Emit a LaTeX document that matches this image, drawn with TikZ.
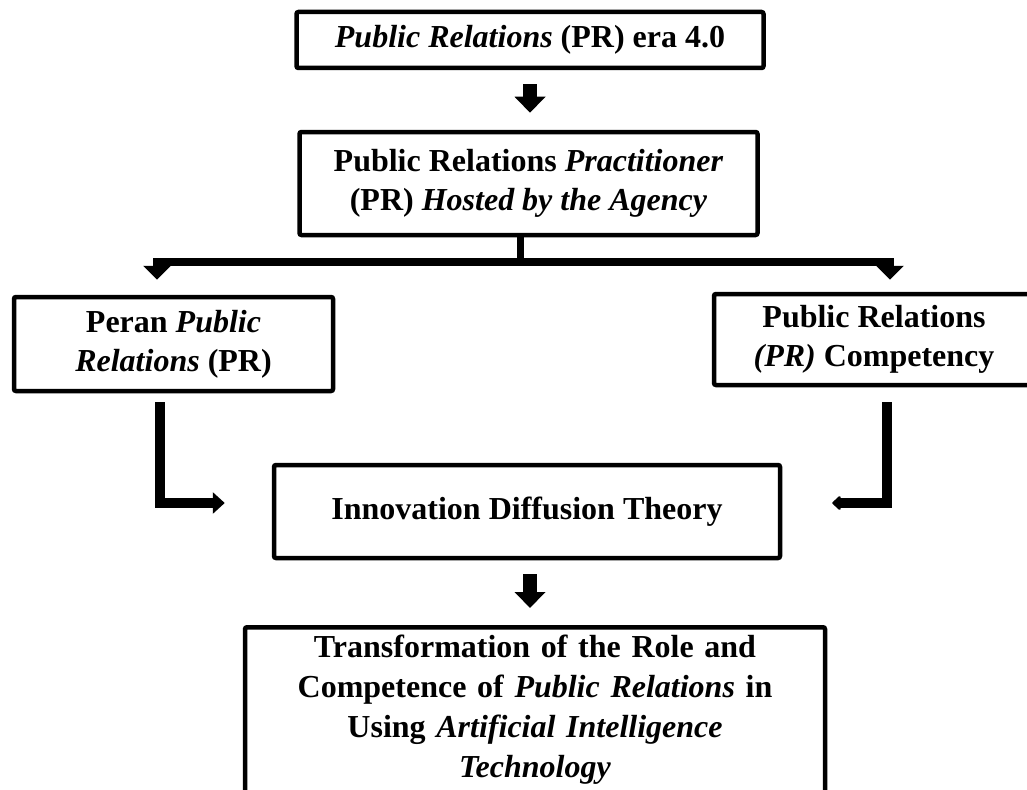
\documentclass[tikz,border=0pt]{standalone}
\usepackage{fontspec}
\setmainfont{Liberation Serif}
\usetikzlibrary{arrows.meta,positioning}

\tikzset{
  box/.style={draw, line width=4.5pt, rounded corners=2pt, align=center, inner sep=0pt,
    font=\fontsize{32}{39}\selectfont\bfseries},
  bigarrow/.style={line width=14pt, -{Triangle[width=30pt,length=16pt]}},
  bararrow/.style={line width=8pt, line join=miter, -{Triangle[width=27pt,length=14pt]}},
  elbowarrow/.style={line width=10pt, line join=miter, -{Triangle[width=21pt,length=12pt]}},
  smallarrow/.style={line width=10pt, line join=miter, -{Triangle[width=16pt,length=9pt,round]}},
}

\begin{document}
\begin{tikzpicture}[x=1pt, y=-1pt]
  \useasboundingbox (0,0) rectangle (1027,789);

  \node[box, minimum width=467pt, minimum height=56pt] (era) at (530,40) {\textit{Public Relations} (PR) era 4.0};
  \node[box, minimum width=458pt, minimum height=103pt] (pract) at (528.5,183.5) {Public Relations \textit{Practitioner}\\(PR) \textit{Hosted by the Agency}};
  \node[box, minimum width=319pt, minimum height=94pt] (peran) at (173.5,344) {Peran \textit{Public}\\\textit{Relations} (PR)};
  \node[box, minimum width=320pt, minimum height=91pt] (comp) at (874,339.5) {Public Relations\\\textit{(PR)} Competency};
  \node[box, minimum width=506pt, minimum height=93pt] (idt) at (527,511.5) {Innovation Diffusion Theory};
  \node[box, font=\fontsize{32}{40}\selectfont\bfseries, text width=560pt, minimum width=580pt, inner ysep=8pt,
    text depth=140pt, anchor=north] (trans) at (535,625)
    {Transformation of the Role and\\Competence of \textit{Public Relations} in\\Using \textit{Artificial Intelligence}\\\textit{Technology}};

  \coordinate (split) at (520,262);
  \coordinate (mid) at ([xshift=3pt]idt.south);

  \draw[bigarrow, shorten <=14pt, shorten >=17pt] (era.south) -- (era.south |- pract.north);
  \draw[line width=7pt] (split |- pract.south) -- (split);
  \draw[bararrow, shorten >=15pt] (split) -| ([xshift=-16.5pt]peran.north);
  \draw[bararrow, shorten >=12pt] (split) -| ([xshift=16pt]comp.north);
  \draw[elbowarrow, shorten <=9pt, shorten >=47pt] ([xshift=-13.5pt]peran.south) |- ([yshift=8.5pt]idt.west);
  \draw[smallarrow, shorten <=15pt, shorten >=50pt] ([xshift=13pt]comp.south) |- ([yshift=8.5pt]idt.east);
  \draw[bigarrow, shorten <=14pt, shorten >=17pt] (mid) -- (mid |- trans.north);
\end{tikzpicture}
\end{document}
